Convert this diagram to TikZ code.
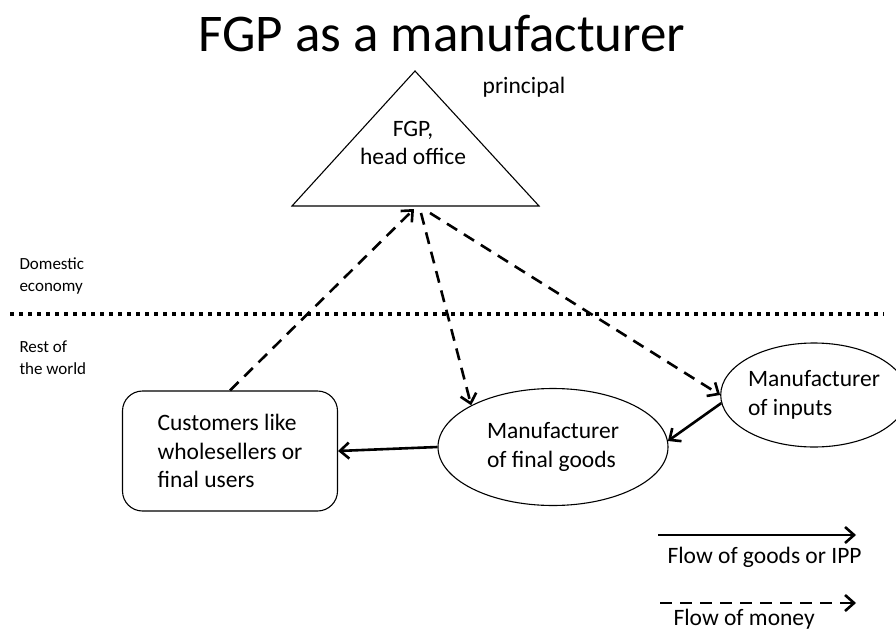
\documentclass[tikz,border=0pt]{standalone}
\usepackage{fontspec}
\setmainfont{Carlito}
\usetikzlibrary{arrows.meta}
\usetikzlibrary{shapes.geometric}

\begin{document}
\begin{tikzpicture}[x=1pt,y=-1pt,
    every node/.style={font=\fontsize{23.5}{28.5}\selectfont},
    goods/.style={line width=2.6pt, -{Straight Barb[length=9pt,width=16pt]}},
    money/.style={goods, dash pattern=on 12pt off 8pt}]
    \tikzset{firm/.style={ellipse, draw, line width=1.1pt, inner sep=0pt, align=left}}
    \tikzset{side/.style={anchor=west, align=left, font=\fontsize{17}{22}\selectfont}}
    \useasboundingbox (0,0) rectangle (896,631);

    \node (title) at (442,34) {\fontsize{53}{60}\selectfont FGP as a manufacturer};

    % head office
    \coordinate (hqL) at (292,206); \coordinate (hqT) at (415,71); \coordinate (hqR) at (539,206);
    \draw[line width=1.1pt, line join=miter] (hqL) -- (hqT) -- (hqR) -- cycle;
    \node[align=center] (hq) at (413,143) {FGP,\\head office};
    \node (principal) at (524,87) {principal};
    \coordinate (hqin) at (414,209); \coordinate (hqa) at (421,213); \coordinate (hqb) at (430,213);

    % border between the two economies
    \coordinate (bL) at (10,314); \coordinate (bR) at (884,314);
    \draw[line width=3.5pt, dash pattern=on 3.5pt off 5.5pt] (bL) -- (bR);
    \node[side] (dom) at (16,276) {Domestic\\economy};
    \node[side] (row) at (16,358) {Rest of\\the world};

    \node[draw, rounded corners=20pt, line width=1.1pt, minimum width=215pt, minimum height=120pt, align=left] (customers) at (230,451) {Customers like\\wholesellers or\\final users};
    \node[firm, minimum width=230pt, minimum height=117pt] (final) at (553,447) {Manufacturer\\of final goods};
    \node[firm, minimum width=163pt, minimum height=104pt] (inputs) at (814,395) {Manufacturer\\of inputs};

    \draw[money] (customers.north) -- (hqin);
    \draw[money] (hqa) -- (final.153);
    \draw[money] (hqb) -- (inputs.west);
    \draw[goods] (inputs.185) -- (final.3);
    \draw[goods] (final.west) -- (customers.east);

    % legend
    \coordinate (lg1) at (658,535); \coordinate (lg2) at (856,535);
    \coordinate (lg3) at (660,603); \coordinate (lg4) at (856,603);
    \draw[goods] (lg1) -- (lg2);
    \node[anchor=west] (lgoods) at (664,557) {Flow of goods or IPP};
    \draw[money] (lg3) -- (lg4);
    \node[anchor=west] (lmoney) at (670,619) {Flow of money};
\end{tikzpicture}
\end{document}
